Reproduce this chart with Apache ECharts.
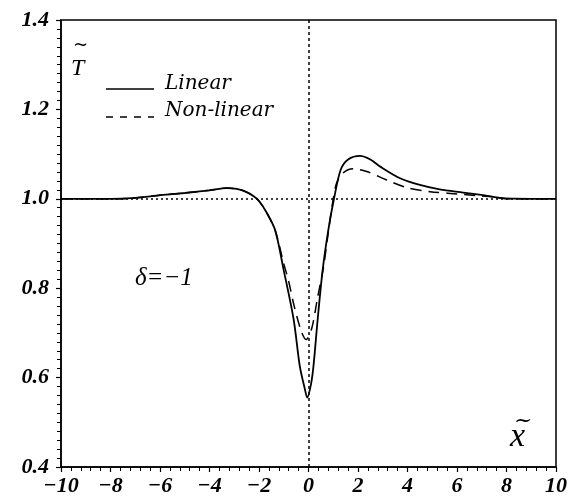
<!DOCTYPE html>
<html>
<head>
<meta charset="utf-8">
<script src="https://cdn.jsdelivr.net/npm/echarts@6/dist/echarts.min.js"></script>
<style>html,body{margin:0;padding:0;background:#fff;}#c{width:571px;height:502px;}</style>
</head>
<body>
<div id="c"></div>
<script>
var xLinear = [-10, -8, -7, -6, -5, -4, -3.3, -2.9, -2.5, -2.2, -2.0, -1.7, -1.35, -1.0, -0.6, -0.35, -0.15, -0.05, 0.1, 0.2, 0.37, 0.57, 0.8, 1.03, 1.3, 1.6, 2.08, 2.5, 2.9, 3.7, 4.5, 5.3, 6.25, 7.06, 7.9, 10];
var yLinear = [1.0, 1.0, 1.002, 1.008, 1.013, 1.019, 1.024, 1.022, 1.015, 1.005, 0.995, 0.97, 0.93, 0.84, 0.73, 0.625, 0.575, 0.555, 0.585, 0.625, 0.73, 0.84, 0.93, 1.0, 1.065, 1.088, 1.096, 1.088, 1.072, 1.046, 1.031, 1.021, 1.014, 1.008, 1.001, 1.0];
var xNonLinear = [-10, -8, -7, -6, -5, -4, -3.3, -2.9, -2.5, -2.2, -2.0, -1.7, -1.35, -1.0, -0.8, -0.6, -0.3, -0.1, 0.13, 0.37, 0.6, 0.8, 1.0, 1.14, 1.4, 1.81, 2.35, 3.16, 3.97, 4.91, 6.0, 6.8, 7.6, 8.0, 10];
var yNonLinear = [1.0, 1.0, 1.002, 1.008, 1.013, 1.019, 1.024, 1.022, 1.015, 1.005, 0.995, 0.97, 0.93, 0.855, 0.815, 0.765, 0.705, 0.685, 0.71, 0.78, 0.845, 0.925, 1.0, 1.036, 1.058, 1.067, 1.061, 1.042, 1.025, 1.016, 1.011, 1.007, 1.004, 1.0, 1.0];
var xTicks = [-10, -8, -6, -4, -2, 0, 2, 4, 6, 8, 10];
var yTicks = [0.4, 0.6, 0.8, 1.0, 1.2, 1.4];
var seriesNames = ['Linear', 'Non-linear'];

function pairs(xs, ys) { return xs.map(function (x, i) { return [x, ys[i]]; }); }

var chart = echarts.init(document.getElementById('c'), null, { renderer: 'canvas' });

chart.setOption({
  animation: false,
  backgroundColor: '#fff',
  grid: { left: 61, right: 15, top: 20, bottom: 35, show: true, borderColor: '#000', borderWidth: 1.5, backgroundColor: 'transparent' },
  xAxis: {
    type: 'value', min: -10, max: 10, interval: 2,
    axisLine: { show: true, onZero: false, lineStyle: { color: '#000', width: 1.5 } },
    axisTick: { show: true, inside: false, length: 5, lineStyle: { color: '#000', width: 1.2 } },
    minorTick: { show: true, splitNumber: 5, length: 4, lineStyle: { color: '#000', width: 1 } },
    splitLine: { show: false },
    axisLabel: {
      margin: 8, color: '#000', fontSize: 22, fontFamily: 'serif', fontStyle: 'italic', fontWeight: 'bold',
      formatter: function (v) { return xTicks.indexOf(v) >= 0 ? (v < 0 ? '\u2212' + Math.abs(v) : String(v)) : ''; }
    }
  },
  yAxis: {
    type: 'value', min: 0.4, max: 1.4, interval: 0.2,
    axisLine: { show: true, onZero: false, lineStyle: { color: '#000', width: 1.5 } },
    axisTick: { show: true, inside: false, length: 5, lineStyle: { color: '#000', width: 1.2 } },
    minorTick: { show: true, splitNumber: 10, length: 4, lineStyle: { color: '#000', width: 1 } },
    splitLine: { show: false },
    axisLabel: {
      margin: 12, color: '#000', fontSize: 22, fontFamily: 'serif', fontStyle: 'italic', fontWeight: 'bold',
      formatter: function (v) {
        var r = Math.round(v * 10) / 10;
        return yTicks.indexOf(r) >= 0 ? r.toFixed(1) : '';
      }
    }
  },
  series: [
    {
      name: seriesNames[0], type: 'line', data: pairs(xLinear, yLinear), showSymbol: false,
      smooth: 0.3,
      lineStyle: { color: '#000', width: 1.8, type: 'solid' },
      markLine: {
        silent: true, symbol: 'none', label: { show: false },
        data: [
          { yAxis: 1.0, lineStyle: { type: [2, 3], color: '#000', width: 1.5 } },
          { xAxis: 0, lineStyle: { type: [3, 3], color: '#000', width: 1.5 } }
        ]
      },
      z: 3
    },
    {
      name: seriesNames[1], type: 'line', data: pairs(xNonLinear, yNonLinear), showSymbol: false,
      smooth: 0.3,
      lineStyle: { color: '#000', width: 1.5, type: [11, 7] },
      z: 3
    }
  ],
  graphic: [
    { type: 'line', shape: { x1: 106, y1: 89, x2: 154, y2: 89 }, style: { stroke: '#000', lineWidth: 1.5 } },
    { type: 'line', shape: { x1: 106, y1: 117, x2: 154, y2: 117 }, style: { stroke: '#000', lineWidth: 1.5, lineDash: [7, 7] } },
    { type: 'text', left: 165, top: 74, style: { text: seriesNames[0], font: 'italic 20px "DejaVu Serif"', fill: '#000' } },
    { type: 'text', left: 165, top: 101, style: { text: seriesNames[1], font: 'italic 20px "DejaVu Serif"', fill: '#000' } },
    { type: 'text', left: 73, top: 36, style: { text: '~', font: '18px "DejaVu Serif"', fill: '#000' } },
    { type: 'text', left: 71, top: 57, style: { text: 'T', font: 'italic 24px "Liberation Serif"', fill: '#000' } },
    { type: 'text', left: 135, top: 266, style: { text: '\u03b4=\u22121', font: 'italic 25px "Liberation Serif"', fill: '#000' } },
    { type: 'text', left: 514, top: 410, style: { text: '~', font: '22px "DejaVu Serif"', fill: '#000' } },
    { type: 'text', left: 510, top: 420, style: { text: 'x', font: 'italic 34px "Liberation Serif"', fill: '#000' } }
  ]
});
</script>
</body>
</html>
